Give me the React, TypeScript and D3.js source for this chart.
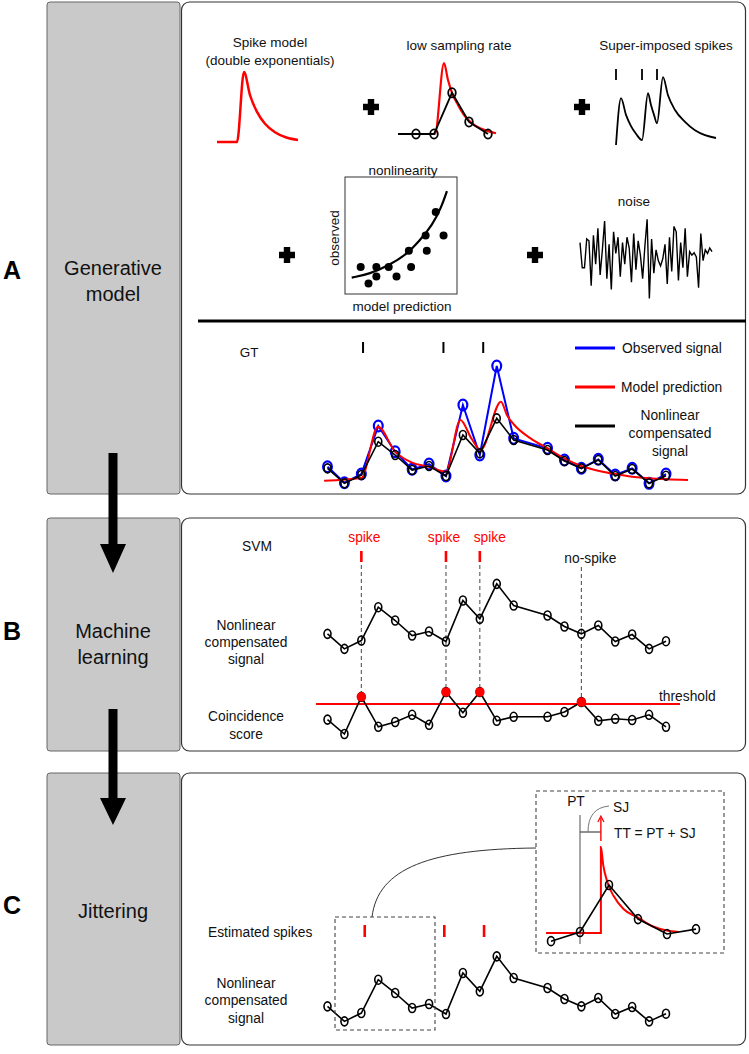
import React from "react";
import * as d3 from "d3";

const FONT = "'Liberation Sans', Arial, Helvetica, sans-serif";
const RED = "#ff0000";
const BLUE = "#0000ff";

// ---------- data ----------
const stageLetters = ["A", "B", "C"];

// spike model (double exponential kernel)
const kernelT = [0, 20, 27, 33, 40, 48, 58, 70, 81];
const kernelV = [0, 0, 1.0, 0.67, 0.43, 0.26, 0.14, 0.06, 0.03];

// low sampling rate
const lowRateT = [0, 37, 46, 50, 54, 60, 67, 74, 82, 90, 98];
const lowRateV = [0, 0, 1.0, 0.76, 0.58, 0.41, 0.25, 0.15, 0.08, 0.04, 0.01];
const lowSampT = [0, 18, 36, 54, 71, 90];
const lowSampV = [0, 0, 0, 0.58, 0.17, 0];

// super-imposed spikes
const superT = [0, 5, 10, 15, 20, 26, 32, 35, 38, 41, 47, 52, 59, 69, 79, 89, 100];
const superV = [0, 0.67, 0.43, 0.27, 0.16, 0.07, 0.74, 0.57, 0.43, 0.31, 0.97, 0.71, 0.5, 0.33, 0.21, 0.14, 0.1];
const superSpikes = [0, 26, 41];

// nonlinearity scatter
const nlDotX = [0.14, 0.21, 0.28, 0.28, 0.39, 0.46, 0.57, 0.59, 0.72, 0.73, 0.81, 0.88];
const nlDotY = [0.23, 0.09, 0.23, 0.15, 0.23, 0.15, 0.37, 0.23, 0.5, 0.37, 0.7, 0.5];
const nlCurveX = [0.06, 0.22, 0.4, 0.54, 0.67, 0.78, 0.86, 0.91];
const nlCurveY = [0.14, 0.17, 0.25, 0.33, 0.46, 0.59, 0.74, 0.88];

// noise
const noise = [0.4, -0.3, -0.3, 0.5, 0.45, -0.8, 0.6, -0.2, 0.8, -0.5, 0.2, 1.0, -0.6, 0.35, -0.9, 0.7, 0.1, 0.55, -0.55, 0.4,
  -0.2, 0.55, 0.25, -0.7, 0.65, -0.35, 0.45, 0.05, -0.6, 0.3, 1.05, -1.15, 0.5, -0.45, 0.2, -0.1, -0.25, -0.05, 0.35, -0.75,
  0.55, -0.4, 0.85, 0.7, -0.65, 0.4, -0.3, 0.8, -0.55, 0.15, 0.05, 0.12, 0.0, -0.85, 0.65, -0.1, 0.2, 0.1, 0.25, 0.15];

// main signals (sample index 12 is missing)
const sampleIdx = [0, 1, 2, 3, 4, 5, 6, 7, 8, 9, 10, 11, 13, 14, 15, 16, 17, 18, 19, 20];
const nonlinearSignal = [0.55, 0.1, 0.35, 1.35, 0.95, 0.5, 0.62, 0.32, 1.55, 1.0, 2.05, 1.4, 1.1, 0.77, 0.55, 0.8, 0.32, 0.53, 0.1, 0.33];
const observedSignal = [0.6, 0.12, 0.38, 1.82, 1.05, 0.52, 0.68, 0.32, 2.45, 0.95, 3.62, 1.45, 1.15, 0.8, 0.55, 0.82, 0.35, 0.55, 0.1, 0.38];
const modelT = [-0.2, 2.0, 2.98, 4, 5, 6, 7, 7.85, 8.5, 9.05, 10.25, 10.6, 11.04, 12, 13, 14, 15, 16, 17, 18, 19, 20, 21.3];
const modelV = [0.18, 0.26, 1.8, 1.05, 0.72, 0.6, 0.45, 2.0, 1.45, 1.1, 2.55, 2.15, 1.85, 1.45, 1.15, 0.85, 0.62, 0.48, 0.38, 0.3, 0.25, 0.22, 0.2];
const coincidenceScore = [0.61, 0.25, 1.18, 0.43, 0.55, 0.73, 0.48, 1.3, 0.78, 1.3, 0.58, 0.68, 0.68, 0.8, 1.05, 0.58, 0.63, 0.6, 0.73, 0.43];
const threshold = 1;

const gtSpikes = [2.1, 6.85, 9.2];
const svmSpikes = [2, 7, 9];
const noSpikes = [15];
const estimatedSpikes = [2.2, 6.9, 9.25];

// jitter inset
const insetT = [0, 1, 2, 3, 4, 5];
const insetV = [-0.17, 0.02, 1.0, 0.29, -0.02, 0.08];
const insetKernelT = [-0.17, 1.72, 1.72, 1.8, 1.95, 2.15, 2.5, 3.0, 3.5, 4.0, 4.4];
const insetKernelV = [0, 0, 1.79, 1.42, 1.05, 0.78, 0.5, 0.32, 0.14, 0.05, 0.02];
const pretime = 1;
const truetime = 1.72;

// layout: horizontal nudges for the "spike" labels so they do not collide
const spikeLabelDx = [3, -2, 10];

// ---------- helpers ----------
const zip = (a: number[], b: number[]) => a.map((v, i) => [v, b[i]] as [number, number]);

function Plus({ x, y }: { x: number; y: number }) {
  const s = 8, w = 3.2;
  return (
    <path
      d={`M${x - w},${y - s}H${x + w}V${y - w}H${x + s}V${y + w}H${x + w}V${y + s}H${x - w}V${y + w}H${x - s}V${y - w}H${x - w}Z`}
      fill="#000"
    />
  );
}

function Txt(props: any) {
  const { x, y, children, anchor = "middle", size = 13.8, fill = "#111", weight = "normal", ...rest } = props;
  return (
    <text x={x} y={y} textAnchor={anchor} dominantBaseline="central" fontFamily={FONT} fontSize={size}
      fill={fill} fontWeight={weight} {...rest}>{children}</text>
  );
}

function Arrow({ x, y0, yh, y1 }: { x: number; y0: number; yh: number; y1: number }) {
  const sw = 4.5, hw = 13;
  return (
    <path d={`M${x - sw},${y0}H${x + sw}V${yh}H${x + hw}L${x},${y1}L${x - hw},${yh}H${x - sw}Z`} fill="#000" />
  );
}

export default function App() {
  const xS = d3.scaleLinear().domain([0, 20]).range([327.5, 666]);
  const yA = d3.scaleLinear().domain([0, 4]).range([486.7, 353.3]);
  const yB = d3.scaleLinear().domain([0, 4]).range([652.2, 518.8]);
  const yC = d3.scaleLinear().domain([0, 4]).range([1024.7, 891.3]);
  const yCo = d3.scaleLinear().domain([0, 2]).range([744, 664]);

  const lineGen = (xs: any, ys: any, curve: any = d3.curveLinear) =>
    d3.line<[number, number]>().x((d) => xs(d[0])).y((d) => ys(d[1])).curve(curve);

  const kx = d3.scaleLinear().domain([0, 81]).range([217, 298]);
  const ky = d3.scaleLinear().domain([0, 1]).range([142, 72]);
  const lx = d3.scaleLinear().domain([0, 98]).range([398, 496]);
  const ly = d3.scaleLinear().domain([0, 1]).range([134, 63]);
  const sx = d3.scaleLinear().domain([0, 100]).range([616, 716]);
  const sy = d3.scaleLinear().domain([0, 1]).range([145, 75]);
  const nx = d3.scaleLinear().domain([0, 1]).range([345, 457]);
  const ny = d3.scaleLinear().domain([0, 1]).range([294, 177]);
  const zx = d3.scaleLinear().domain([0, noise.length - 1]).range([580, 712]);
  const zy = d3.scaleLinear().domain([-1, 1]).range([293, 221]);
  const ix = d3.scaleLinear().domain([0, 5]).range([551, 696]);
  const iy = d3.scaleLinear().domain([0, 1]).range([933, 885]);

  const nonlinPts = zip(sampleIdx, nonlinearSignal);
  const obsPts = zip(sampleIdx, observedSignal);
  const modelPts = zip(modelT, modelV);
  const coPts = zip(sampleIdx, coincidenceScore);

  const Ell = ({ cx, cy, stroke = "#000", sw = 1.6, rx = 3.5, ry = 4.5 }: any) => (
    <ellipse cx={cx} cy={cy} rx={rx} ry={ry} fill="none" stroke={stroke} strokeWidth={sw} />
  );

  const signalWithCircles = (ys: any, key: string) => (
    <g key={key}>
      <path d={lineGen(xS, ys)(nonlinPts) || ""} fill="none" stroke="#000" strokeWidth={1.6} />
      {nonlinPts.map((d, i) => <Ell key={i} cx={xS(d[0])} cy={ys(d[1])} />)}
    </g>
  );

  const boxes = [
    { y: 2, h: 492 },
    { y: 518, h: 233 },
    { y: 773, h: 272 },
  ];
  const letterY = [270, 631, 905];

  return (
    <svg width={749} height={1054} style={{ position: "absolute", left: 0, top: 0, background: "#fff" }}>
      <rect x={0} y={0} width={749} height={1054} fill="#fff" />
      {boxes.map((p, i) => (
        <rect key={i} x={181.5} y={p.y} width={564} height={p.h} rx={8} ry={8} fill="#fff" stroke="#333" strokeWidth={1.2} />
      ))}
      {boxes.map((b, i) => (
        <rect key={i} x={47} y={b.y} width={133} height={b.h} rx={3} ry={3} fill="#c9c9c9" stroke="#666" strokeWidth={1} />
      ))}
      {stageLetters.map((l, i) => (
        <Txt key={l} x={12} y={letterY[i]} size={25} weight="900" fill="#000">{l}</Txt>
      ))}
      <Txt x={113} y={268} size={20}>Generative</Txt>
      <Txt x={113} y={294} size={20}>model</Txt>
      <Txt x={113} y={631} size={20}>Machine</Txt>
      <Txt x={113} y={657} size={20}>learning</Txt>
      <Txt x={113} y={911} size={20}>Jittering</Txt>
      <Arrow x={113} y0={453} yh={544} y1={573} />
      <Arrow x={113} y0={709} yh={798} y1={825} />

      {/* ===== Panel A ===== */}
      <Txt x={270} y={42} size={13.5}>Spike model</Txt>
      <Txt x={270} y={60} size={13.5}>(double exponentials)</Txt>
      <path d={lineGen(kx, ky, d3.curveMonotoneX)(zip(kernelT, kernelV)) || ""} fill="none" stroke={RED} strokeWidth={2.5} />
      <Plus x={371} y={107} />

      <Txt x={459} y={45} size={13.5}>low sampling rate</Txt>
      <path d={lineGen(lx, ly, d3.curveMonotoneX)(zip(lowRateT, lowRateV)) || ""} fill="none" stroke={RED} strokeWidth={2.2} />
      <path d={lineGen(lx, ly)(zip(lowSampT, lowSampV)) || ""} fill="none" stroke="#000" strokeWidth={1.8} />
      {lowSampT.slice(1).map((t, i) => <Ell key={i} cx={lx(t)} cy={ly(lowSampV[i + 1])} sw={1.8} rx={3.8} ry={4.6} />)}
      <Plus x={582} y={107} />

      <Txt x={666} y={45} size={13.5}>Super-imposed spikes</Txt>
      {superSpikes.map((t, i) => (
        <line key={i} x1={sx(t)} x2={sx(t)} y1={69} y2={80} stroke="#000" strokeWidth={1.8} />
      ))}
      <path d={lineGen(sx, sy, d3.curveMonotoneX)(zip(superT, superV)) || ""} fill="none" stroke="#000" strokeWidth={1.8} />

      <Plus x={287} y={255} />
      <Txt x={403} y={170} size={13.5}>nonlinearity</Txt>
      <rect x={345} y={177} width={112} height={117} fill="none" stroke="#333" strokeWidth={1} />
      <Txt x={334} y={238} size={13.5} transform="rotate(-90 334 238)">observed</Txt>
      <Txt x={402} y={306} size={13.5}>model prediction</Txt>
      <path d={lineGen(nx, ny, d3.curveBasis)(zip(nlCurveX, nlCurveY)) || ""} fill="none" stroke="#000" strokeWidth={2.2} />
      {nlDotX.map((v, i) => <circle key={i} cx={nx(v)} cy={ny(nlDotY[i])} r={4} fill="#000" />)}

      <Plus x={535} y={255} />
      <Txt x={634} y={201} size={13.5}>noise</Txt>
      <path d={lineGen(zx, zy)(noise.map((v, i) => [i, v] as [number, number])) || ""} fill="none" stroke="#000" strokeWidth={1.4} />

      <line x1={198} x2={746} y1={321} y2={321} stroke="#000" strokeWidth={3} />

      <Txt x={249} y={352} size={13.5}>GT</Txt>
      {gtSpikes.map((t, i) => (
        <line key={i} x1={xS(t)} x2={xS(t)} y1={342} y2={353} stroke="#000" strokeWidth={2} />
      ))}

      {/* legend */}
      <line x1={575} x2={615} y1={348} y2={348} stroke={BLUE} strokeWidth={3} />
      <Txt x={622} y={348} anchor="start">Observed signal</Txt>
      <line x1={575} x2={615} y1={387} y2={387} stroke={RED} strokeWidth={3} />
      <Txt x={621} y={387} anchor="start">Model prediction</Txt>
      <line x1={575} x2={615} y1={426} y2={426} stroke="#000" strokeWidth={3} />
      <Txt x={670} y={415}>Nonlinear</Txt>
      <Txt x={670} y={433}>compensated</Txt>
      <Txt x={670} y={451}>signal</Txt>

      <path d={lineGen(xS, yA)(obsPts) || ""} fill="none" stroke={BLUE} strokeWidth={2} />
      {obsPts.map((d, i) => <Ell key={i} cx={xS(d[0])} cy={yA(d[1])} stroke={BLUE} sw={2.2} rx={4.4} ry={5.4} />)}
      <path d={lineGen(xS, yA, d3.curveMonotoneX)(modelPts) || ""} fill="none" stroke={RED} strokeWidth={2} />
      {signalWithCircles(yA, "a")}

      {/* ===== Panel B ===== */}
      <Txt x={257} y={546}>SVM</Txt>
      {svmSpikes.map((t, i) => (
        <g key={i}>
          <Txt x={xS(t) + spikeLabelDx[i]} y={537} fill={RED}>spike</Txt>
          <line x1={xS(t)} x2={xS(t)} y1={551} y2={562} stroke={RED} strokeWidth={2.6} />
          <line x1={xS(t)} x2={xS(t)} y1={565} y2={yCo(coincidenceScore[sampleIdx.indexOf(t)])}
            stroke="#555" strokeWidth={1.1} strokeDasharray="4,3" />
        </g>
      ))}
      {noSpikes.map((t, i) => (
        <g key={i}>
          <Txt x={xS(t) + 9} y={558}>no-spike</Txt>
          <line x1={xS(t)} x2={xS(t)} y1={567} y2={yCo(coincidenceScore[sampleIdx.indexOf(t)])}
            stroke="#555" strokeWidth={1.1} strokeDasharray="4,3" />
        </g>
      ))}
      <Txt x={246} y={625}>Nonlinear</Txt>
      <Txt x={246} y={642}>compensated</Txt>
      <Txt x={246} y={659}>signal</Txt>
      {signalWithCircles(yB, "b")}

      <line x1={316} x2={680} y1={yCo(threshold)} y2={yCo(threshold)} stroke={RED} strokeWidth={2} />
      <Txt x={659} y={696} anchor="start">threshold</Txt>
      <Txt x={246} y={716}>Coincidence</Txt>
      <Txt x={246} y={734}>score</Txt>
      <path d={lineGen(xS, yCo)(coPts) || ""} fill="none" stroke="#000" strokeWidth={1.6} />
      {coPts.map((d, i) => <Ell key={i} cx={xS(d[0])} cy={yCo(d[1])} />)}
      {[...svmSpikes, ...noSpikes].map((t, i) => (
        <circle key={i} cx={xS(t)} cy={yCo(coincidenceScore[sampleIdx.indexOf(t)])} r={4.8} fill={RED} />
      ))}

      {/* ===== Panel C ===== */}
      <Txt x={208} y={932} anchor="start">Estimated spikes</Txt>
      {estimatedSpikes.map((t, i) => (
        <line key={i} x1={xS(t)} x2={xS(t)} y1={925} y2={937} stroke={RED} strokeWidth={2.6} />
      ))}
      <Txt x={246} y={983}>Nonlinear</Txt>
      <Txt x={246} y={1000}>compensated</Txt>
      <Txt x={246} y={1018}>signal</Txt>
      {signalWithCircles(yC, "c")}
      <rect x={335} y={917} width={100} height={113} fill="none" stroke="#444" strokeWidth={1.1} strokeDasharray="4,3" />
      <path d="M372,917 C378,868 430,849 536,848" fill="none" stroke="#333" strokeWidth={1} />

      {/* inset */}
      <rect x={536} y={791} width={188} height={162} fill="#fff" stroke="#444" strokeWidth={1.1} strokeDasharray="4,3" />
      <Txt x={576} y={801}>PT</Txt>
      <line x1={ix(pretime)} x2={ix(pretime)} y1={815} y2={944} stroke="#777" strokeWidth={1.3} />
      <line x1={ix(pretime)} x2={ix(truetime)} y1={832} y2={832} stroke="#555" strokeWidth={1.3} />
      <path d={`M588,832 Q588,808 609,806`} fill="none" stroke="#777" strokeWidth={1} />
      <Txt x={613} y={807} anchor="start">SJ</Txt>
      <line x1={ix(truetime)} x2={ix(truetime)} y1={818} y2={841} stroke={RED} strokeWidth={1.4} />
      <path d={`M${ix(truetime) - 3},${822} L${ix(truetime)},${816} L${ix(truetime) + 3},${822}`} fill="none" stroke={RED} strokeWidth={1.2} />
      <Txt x={614} y={833} anchor="start">TT = PT + SJ</Txt>
      <path d={lineGen(ix, iy, d3.curveMonotoneX)(zip(insetKernelT, insetKernelV)) || ""} fill="none" stroke={RED} strokeWidth={2} />
      <path d={lineGen(ix, iy)(zip(insetT, insetV)) || ""} fill="none" stroke="#000" strokeWidth={1.6} />
      {insetT.map((t, i) => <Ell key={i} cx={ix(t)} cy={iy(insetV[i])} />)}
    </svg>
  );
}
